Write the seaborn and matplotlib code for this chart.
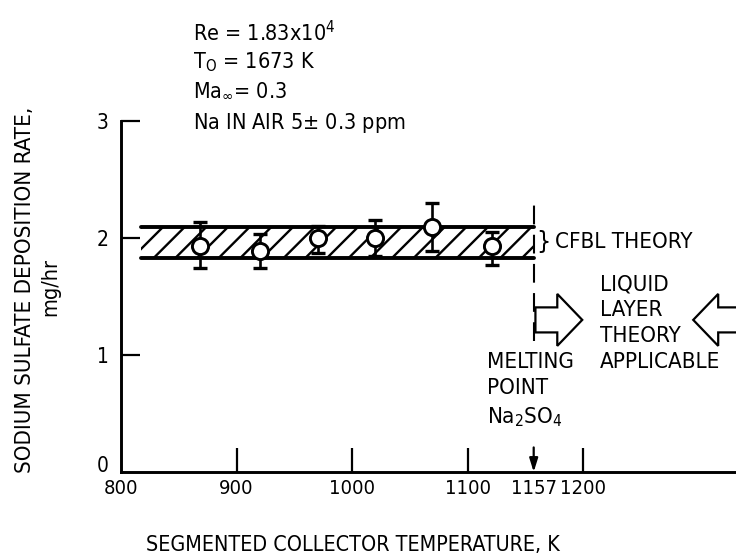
import numpy as np
import pandas as pd
import seaborn as sns
import matplotlib
matplotlib.use("Agg")
import matplotlib.pyplot as plt
import matplotlib.transforms as mtrans
from matplotlib.patches import FancyArrow

# ---- data ----
temps = [868, 920, 970, 1020, 1069, 1121]
rates = [1.93, 1.89, 2.00, 2.00, 2.09, 1.93]
err_low = [0.19, 0.15, 0.13, 0.15, 0.20, 0.16]
err_high = [0.21, 0.14, 0.10, 0.15, 0.21, 0.12]
band_x = [817, 1157]
band_low = [1.83, 1.83]
band_high = [2.09, 2.09]
melt_T = 1157
xtick_vals = [800, 900, 1000, 1100, 1157, 1200]
xtick_labels = ["800", "900", "1000", "1100", "1157", "1200"]
ytick_vals = [0, 1, 2, 3]
ytick_labels = ["0", "1", "2", "3"]

DPI = 130
K = 100 / DPI          # sizes below are given as if at 100 dpi


def pt(v):
    return v * K


W, H = 736, 560

sns.set_theme(style="ticks")
plt.rcParams["font.family"] = ["DejaVu Sans"]
plt.rcParams["font.stretch"] = "condensed"
plt.rcParams["mathtext.fontset"] = "dejavusans"
plt.rcParams["hatch.linewidth"] = pt(1.7)
plt.rcParams["hatch.color"] = "black"
for key in ["text.color", "axes.labelcolor", "xtick.color", "ytick.color",
            "axes.edgecolor"]:
    plt.rcParams[key] = "black"

fig = plt.figure(figsize=(W / DPI, H / DPI), dpi=DPI)
ax = fig.add_axes([121 / W, 88 / H, 615 / W, 351 / H])

df = pd.DataFrame({"T": temps, "rate": rates})

# hatched CFBL band
ax.fill_between(band_x, band_low, band_high, facecolor="none", edgecolor="black",
                hatch="//", linewidth=0, zorder=1)
bands = pd.DataFrame({"T": band_x * 2, "y": band_low + band_high,
                      "which": ["lo", "lo", "hi", "hi"]})
sns.lineplot(data=bands, x="T", y="y", units="which", estimator=None,
             color="black", linewidth=pt(2.8), ax=ax, zorder=2)

# error bars and open circles
ax.errorbar(temps, rates, yerr=[err_low, err_high], fmt="none", ecolor="black",
            elinewidth=pt(1.9), capsize=pt(5), capthick=pt(2.4), zorder=3)
sns.scatterplot(data=df, x="T", y="rate", marker="o", s=135 * K * K,
                facecolor="white", edgecolor="black", linewidth=pt(2.1),
                ax=ax, zorder=4)

# melting point dashed line
ax.plot([melt_T, melt_T], [1.12, 2.35], color="black", linewidth=pt(1.5),
        dashes=(9, 5), zorder=2)
# arrow down to axis at melting point
ax.annotate("", xy=(melt_T, 0.0), xytext=(melt_T, 0.21),
            arrowprops=dict(arrowstyle="-|>,head_width=0.25,head_length=0.8",
                            mutation_scale=pt(10), color="black", lw=pt(1.6),
                            shrinkA=0, shrinkB=0),
            annotation_clip=False)

# block arrows
ax.add_patch(FancyArrow(1158.5, 1.30, 40.5, 0, width=0.214, head_width=0.444,
                        head_length=21.6, length_includes_head=True,
                        facecolor="white", edgecolor="black", linewidth=pt(1.6),
                        zorder=3))
ax.add_patch(FancyArrow(1345, 1.30, -50, 0, width=0.214, head_width=0.444,
                        head_length=21.6, length_includes_head=True,
                        facecolor="white", edgecolor="black", linewidth=pt(1.6),
                        zorder=3))

# annotations
ax.text(1159, 1.966, "}", fontsize=pt(18), va="center", ha="left")
ax.text(1175, 1.966, "CFBL THEORY", fontsize=pt(16), va="center", ha="left")
ax.text(1214, 1.27, "LIQUID\nLAYER\nTHEORY\nAPPLICABLE", fontsize=pt(16),
        va="center", ha="left", linespacing=1.37)
ax.text(1117, 0.70, "MELTING\nPOINT\nNa$_\\mathregular{2}$SO$_\\mathregular{4}$",
        fontsize=pt(16), va="center", ha="left", linespacing=1.4)

# header block
hdr = [("Re = 1.83x10$^\\mathregular{4}$", 33),
       ("T$_\\mathregular{O}$ = 1673 K", 62),
       ("Ma$_\\infty$= 0.3", 90),
       ("Na IN AIR 5$\\pm$ 0.3 ppm", 123)]
for s, yp in hdr:
    fig.text(193 / W, 1 - yp / H, s, fontsize=pt(15.5), va="center", ha="left")

# axes styling
ax.set_xlim(800, 1332)
ax.set_ylim(0, 3)
ax.set_xticks(xtick_vals)
ax.set_xticklabels(xtick_labels)
ax.set_yticks(ytick_vals)
ax.set_yticklabels(ytick_labels)
ax.tick_params(axis="x", direction="in", length=pt(17), width=pt(1.6),
               labelsize=pt(14.5), pad=pt(5))
ax.tick_params(axis="y", direction="in", length=pt(14), width=pt(1.6),
               labelsize=pt(15), pad=pt(9))
xt = ax.xaxis.get_major_ticks()
xt[0].tick1line.set_visible(False)
xt[4].tick1line.set_visible(False)
yt0 = ax.yaxis.get_major_ticks()[0]
yt0.tick1line.set_visible(False)
yt0.label1.set_transform(yt0.label1.get_transform() +
                         mtrans.ScaledTranslation(0, 8 / DPI, fig.dpi_scale_trans))
for s in ["top", "right"]:
    ax.spines[s].set_visible(False)
for s in ["left", "bottom"]:
    ax.spines[s].set_linewidth(pt(2.1))
ax.set_xlabel("")
ax.set_ylabel("")
fig.text(353 / W, 1 - 545 / H, "SEGMENTED COLLECTOR TEMPERATURE, K",
         fontsize=pt(15.4), ha="center", va="center")
fig.text(25 / W, 1 - 290 / H, "SODIUM SULFATE DEPOSITION RATE,", fontsize=pt(16),
         ha="center", va="center", rotation=90)
fig.text(50 / W, 1 - 287 / H, "mg/hr", fontsize=pt(15.5),
         ha="center", va="center", rotation=90)

fig.savefig("out.png", dpi=DPI)
